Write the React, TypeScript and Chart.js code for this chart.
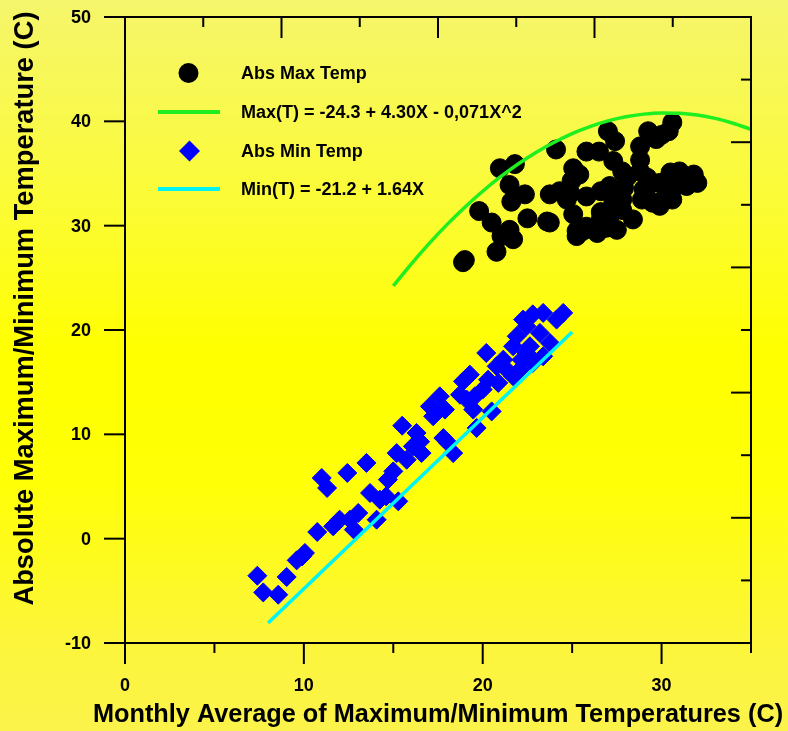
import React, { useEffect, useRef } from "react";
import { Chart, registerables } from "chart.js";

Chart.register(...registerables);

// ---- Data ----
const maxTempX = [18.9, 19.0, 20.77, 21.05, 21.7, 21.5, 19.8, 20.5, 20.96, 21.8, 21.5, 22.36, 21.6, 22.5, 23.75, 24.1, 23.75, 24.3, 25.06, 25.4, 24.97, 24.9, 24.7, 25.25, 25.25, 25.8, 26.5, 27.0, 27.4, 27.3, 27.8, 28.1, 27.1, 26.6, 25.8, 25.8, 26.4, 26.9, 27.5, 27.2, 27.8, 28.4, 27.3, 27.8, 28.8, 29.25, 28.8, 28.8, 29.2, 29.25, 28.9, 29.5, 29.9, 29.7, 30.4, 30.6, 30.0, 30.5, 31.0, 31.8, 32.0, 31.4, 30.8, 30.3, 30.6, 30.1, 29.9, 31.6, 26.6, 26.6, 27.9, 29.0, 25.06, 25.6, 23.6];
const maxTempY = [26.5, 26.7, 27.5, 29.0, 28.7, 29.6, 31.4, 30.3, 35.5, 35.9, 33.9, 33.0, 32.3, 30.7, 30.3, 37.3, 33.0, 33.3, 35.5, 34.9, 34.3, 33.1, 32.5, 29.5, 29.0, 37.1, 37.1, 39.05, 38.1, 36.2, 35.2, 34.7, 33.8, 33.3, 32.8, 29.9, 29.3, 29.8, 29.6, 31.2, 31.5, 30.6, 32.2, 32.5, 37.6, 39.05, 36.3, 35.2, 34.6, 33.8, 32.5, 32.2, 31.9, 38.3, 39.05, 39.9, 38.7, 35.1, 35.2, 34.9, 34.1, 33.8, 33.8, 33.5, 32.5, 32.5, 34.1, 34.4, 30.6, 31.3, 33.6, 33.5, 31.1, 29.5, 30.4];

const minTempX = [7.4, 7.73, 8.57, 9.04, 9.6, 10.06, 9.9, 10.75, 11.0, 11.3, 11.64, 12.0, 12.43, 12.8, 12.58, 13.04, 13.5, 13.7, 14.07, 14.25, 14.6, 15.28, 14.7, 15.0, 15.19, 15.5, 15.75, 16.3, 16.58, 16.1, 16.5, 17.05, 17.23, 17.6, 17.89, 17.8, 18.07, 18.35, 18.73, 18.9, 19.28, 19.1, 19.56, 19.66, 19.47, 20.2, 20.0, 20.3, 20.5, 20.78, 20.87, 21.15, 21.34, 21.7, 21.9, 22.17, 22.45, 22.64, 22.26, 22.8, 23.2, 23.38, 23.38, 23.76, 24.13, 24.5, 21.7, 22.08, 22.8, 22.45];
const minTempY = [-3.55, -5.15, -5.37, -3.67, -2.08, -1.37, -1.7, 0.64, 5.82, 4.86, 1.18, 1.82, 6.3, 0.86, 1.82, 2.46, 7.26, 4.38, 1.82, 3.74, 4.06, 3.58, 5.66, 6.45, 8.2, 10.83, 7.57, 10.13, 8.2, 8.85, 9.3, 12.68, 11.73, 13.64, 12.37, 9.65, 9.17, 8.2, 13.8, 15.08, 15.72, 13.33, 13.64, 10.61, 12.37, 17.8, 14.29, 15.24, 12.2, 16.52, 14.93, 17.16, 16.2, 18.44, 19.4, 17.16, 20.35, 18.44, 21.0, 21.5, 19.72, 21.64, 17.48, 18.76, 21.0, 21.64, 15.56, 16.2, 16.84, 17.8];

const maxFitX = [15, 16, 17, 18, 19, 20, 21, 22, 23, 24, 25, 26, 27, 28, 29, 30, 31, 32, 33, 34, 35];
const maxFitY = [24.23, 26.32, 28.28, 30.1, 31.77, 33.3, 34.69, 35.94, 37.04, 38.0, 38.83, 39.5, 40.04, 40.44, 40.69, 40.8, 40.77, 40.6, 40.28, 39.82, 39.23];

const minFitX = [8, 25];
const minFitY = [-8.08, 19.8];

const xTickValues = [0, 10, 20, 30];
const xTickLabels = ["0", "10", "20", "30"];
const yTickValues = [-10, 0, 10, 20, 30, 40, 50];
const yTickLabels = ["-10", "0", "10", "20", "30", "40", "50"];

const seriesLabels = [
  "Abs Max Temp",
  "Max(T) = -24.3 + 4.30X - 0,071X^2",
  "Abs Min Temp",
  "Min(T) = -21.2 + 1.64X",
];
const xTitle = "Monthly Average of Maximum/Minimum Temperatures (C)";
const yTitle = "Absolute Maximum/Minimum Temperature (C)";

const GREEN = "#1fee1f";
const CYAN = "#00f4f4";
const BLUE = "#0000ff";
const FONT = '"Liberation Sans", Arial, sans-serif';

const bgPlugin = {
  id: "bgGradient",
  beforeDraw(chart: any) {
    const { ctx, width, height } = chart;
    const g = ctx.createLinearGradient(0, 0, 0, height);
    g.addColorStop(0, "#f5f56c");
    g.addColorStop(0.28, "#fbfb35");
    g.addColorStop(0.48, "#ffff00");
    g.addColorStop(0.66, "#ffff06");
    g.addColorStop(0.88, "#fcf53c");
    g.addColorStop(1, "#fbf34a");
    ctx.save();
    ctx.fillStyle = g;
    ctx.fillRect(0, 0, width, height);
    ctx.restore();
  },
};

const axesPlugin = {
  id: "frameAxes",
  afterDraw(chart: any) {
    const { ctx } = chart;
    const xs = chart.scales.x;
    const ys = chart.scales.y;
    const L = xs.getPixelForValue(0);
    const R = xs.getPixelForValue(35);
    const T = ys.getPixelForValue(50);
    const B = ys.getPixelForValue(-10);
    ctx.save();
    ctx.strokeStyle = "#000";
    ctx.lineWidth = 2;
    ctx.lineCap = "butt";
    const line = (x1: number, y1: number, x2: number, y2: number) => {
      ctx.beginPath();
      ctx.moveTo(x1, y1);
      ctx.lineTo(x2, y2);
      ctx.stroke();
    };
    // frame
    line(L, T - 1, L, B + 1);
    line(L - 1, B, R + 1, B);
    line(L - 1, T, R + 1, T);
    line(R, T - 1, R, B + 1);
    // left ticks (outside)
    for (let v = -10; v <= 50; v += 10) {
      const y = ys.getPixelForValue(v);
      line(L - 21, y, L, y);
    }
    // bottom ticks (outside)
    for (let v = 0; v <= 35; v += 5) {
      const x = xs.getPixelForValue(v);
      line(x, B, x, B + (v % 10 === 0 ? 21 : 10));
    }
    // top ticks (inside)
    for (let i = 1; i < 8; i++) {
      const x = xs.getPixelForValue((35 / 8) * i);
      line(x, T, x, T + (i % 2 === 0 ? 21 : 10));
    }
    // right ticks (inside)
    for (let i = 1; i < 10; i++) {
      const y = ys.getPixelForValue(-10 + 6 * i);
      line(R - (i % 2 === 0 ? 20 : 10), y, R, y);
    }
    // tick labels
    ctx.fillStyle = "#000";
    ctx.font = `bold 18px ${FONT}`;
    ctx.textAlign = "right";
    ctx.textBaseline = "middle";
    yTickValues.forEach((v, i) => {
      ctx.fillText(yTickLabels[i], L - 34, ys.getPixelForValue(v) + 1);
    });
    ctx.textAlign = "center";
    ctx.textBaseline = "alphabetic";
    xTickValues.forEach((v, i) => {
      ctx.fillText(xTickLabels[i], xs.getPixelForValue(v), 691);
    });
    // axis titles
    ctx.font = `bold 25.3px ${FONT}`;
    ctx.fillText(xTitle, (L + R) / 2, 722);
    ctx.save();
    ctx.translate(33, 308.5);
    ctx.rotate(-Math.PI / 2);
    ctx.font = `bold 27.3px ${FONT}`;
    ctx.textAlign = "center";
    ctx.textBaseline = "alphabetic";
    ctx.fillText(yTitle, 0, 0);
    ctx.restore();

    // legend
    const lx = 241;
    const rows = [73, 112, 151, 189];
    ctx.font = `bold 18px ${FONT}`;
    ctx.textAlign = "left";
    ctx.textBaseline = "middle";
    ctx.fillStyle = "#000";
    ctx.beginPath();
    ctx.arc(188.5, rows[0], 10, 0, Math.PI * 2);
    ctx.fill();
    ctx.strokeStyle = GREEN;
    ctx.lineWidth = 4;
    line(158, rows[1], 220, rows[1]);
    ctx.fillStyle = BLUE;
    ctx.beginPath();
    ctx.moveTo(189.5, rows[2] - 10.5);
    ctx.lineTo(200, rows[2]);
    ctx.lineTo(189.5, rows[2] + 10.5);
    ctx.lineTo(179, rows[2]);
    ctx.closePath();
    ctx.fill();
    ctx.strokeStyle = CYAN;
    ctx.lineWidth = 4;
    line(158, rows[3], 220, rows[3]);
    ctx.fillStyle = "#000";
    seriesLabels.forEach((t, i) => ctx.fillText(t, lx, rows[i] + 1));
    ctx.restore();
  },
};

export default function App() {
  const canvasRef = useRef<HTMLCanvasElement | null>(null);

  useEffect(() => {
    const canvas = canvasRef.current;
    if (!canvas) return;
    const toPts = (xs: number[], ys: number[]) => xs.map((x, i) => ({ x, y: ys[i] }));
    const chart = new Chart(canvas, {
      type: "scatter",
      data: {
        datasets: [
          {
            label: seriesLabels[0],
            data: toPts(maxTempX, maxTempY),
            pointStyle: "circle",
            pointRadius: 9.5,
            backgroundColor: "#000",
            borderColor: "#000",
            borderWidth: 1,
            order: 2,
          },
          {
            label: seriesLabels[1],
            data: toPts(maxFitX, maxFitY),
            showLine: true,
            borderColor: GREEN,
            backgroundColor: GREEN,
            borderWidth: 3.5,
            pointRadius: 0,
            cubicInterpolationMode: "monotone",
            fill: false,
            order: 0,
          },
          {
            label: seriesLabels[2],
            data: toPts(minTempX, minTempY),
            pointStyle: "rectRot",
            pointRadius: 9.5,
            backgroundColor: BLUE,
            borderColor: BLUE,
            borderWidth: 1,
            order: 2,
          },
          {
            label: seriesLabels[3],
            data: toPts(minFitX, minFitY),
            showLine: true,
            borderColor: CYAN,
            backgroundColor: CYAN,
            borderWidth: 3.5,
            pointRadius: 0,
            fill: false,
            order: 0,
          },
        ],
      } as any,
      options: {
        animation: false,
        responsive: false,
        maintainAspectRatio: false,
        devicePixelRatio: 1,
        layout: { padding: { left: 125, right: 37, top: 17, bottom: 88 } },
        scales: {
          x: { type: "linear", min: 0, max: 35, display: false },
          y: { type: "linear", min: -10, max: 50, display: false },
        },
        plugins: {
          legend: { display: false },
          tooltip: { enabled: false },
          title: { display: false },
        },
        events: [],
      } as any,
      plugins: [bgPlugin, axesPlugin],
    });
    return () => chart.destroy();
  }, []);

  return (
    <div style={{ position: "absolute", left: 0, top: 0, width: 788, height: 731 }}>
      <canvas ref={canvasRef} width={788} height={731} style={{ display: "block", width: 788, height: 731 }} />
    </div>
  );
}
